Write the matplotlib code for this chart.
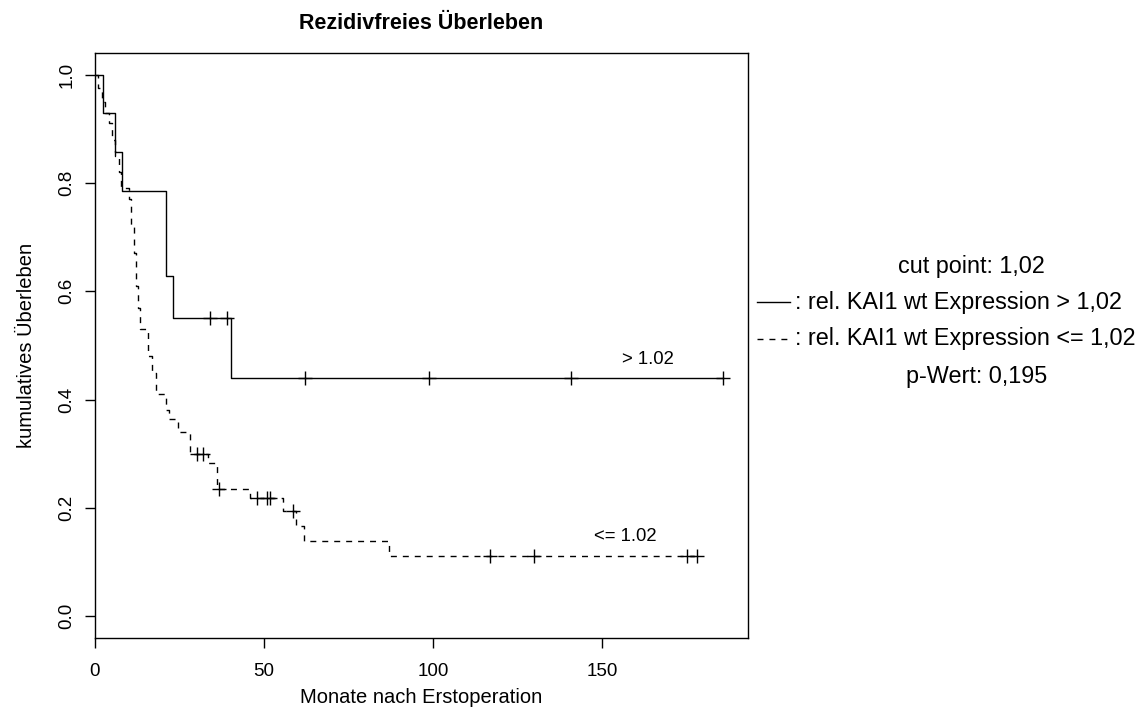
import numpy as np
import matplotlib
matplotlib.use("Agg")
import matplotlib.pyplot as plt
from matplotlib.lines import Line2D

plt.rcParams['font.family'] = ['Liberation Sans', 'DejaVu Sans']

# group "> 1.02" (solid): step times (months) and survival after each step
hi_times = [0, 2.3, 5.9, 8.1, 21.1, 23.0, 40.1]
hi_surv = [1.0, 0.929, 0.857, 0.786, 0.629, 0.550, 0.440]
hi_cens = [34.0, 39.0, 62.1, 98.8, 140.8, 185.8]

# group "<= 1.02" (dashed)
lo_times = [0, 1, 2, 3, 4, 5, 6, 7, 7.7, 10, 10.8, 11.5, 12, 12.8, 13.3, 15.8,
            16.8, 18, 21, 22, 24.5, 28, 33.5, 36, 46, 55.7, 59.6, 61.8, 87]
lo_surv = [1.0, 0.975, 0.95, 0.93, 0.91, 0.88, 0.85, 0.82, 0.79, 0.77, 0.72,
           0.67, 0.61, 0.57, 0.53, 0.48, 0.45, 0.41, 0.38, 0.365, 0.34, 0.30,
           0.283, 0.235, 0.219, 0.195, 0.166, 0.139, 0.111]
lo_cens = [30.1, 32.0, 36.8, 47.8, 50.8, 51.8, 58.7, 116.9, 129.9, 175.1, 178.1]

x_ticks = [0, 50, 100, 150]
y_ticks = [0.0, 0.2, 0.4, 0.6, 0.8, 1.0]
legend_rows = ["cut point: 1,02",
               ": rel. KAI1 wt Expression > 1,02",
               ": rel. KAI1 wt Expression <= 1,02",
               "p-Wert: 0,195"]


def surv_at(times, surv, t):
    idx = np.searchsorted(times, t, side='right') - 1
    return np.array(surv)[idx]


fig = plt.figure(figsize=(11.47, 7.23), dpi=100)
ax = fig.add_axes([95 / 1147, 1 - 638 / 723, (748 - 95) / 1147, (638 - 53) / 723])

end_t = max(hi_cens + lo_cens)
for times, surv, cens, ls in [(hi_times, hi_surv, hi_cens, '-'),
                              (lo_times, lo_surv, lo_cens, '--')]:
    t_full = list(times) + [max(cens)]
    s_full = list(surv) + [surv[-1]]
    line, = ax.step(t_full, s_full, where='post', color='black', lw=1.0, linestyle=ls)
    if ls == '--':
        line.set_dashes((4.3, 4.3))
    ax.plot(cens, surv_at(times, surv, cens), linestyle='none', marker='+',
            markersize=10, mew=1.0, color='black')

ax.text(163.6, 0.475, "> 1.02", fontsize=13.3, ha='center', va='center')
ax.text(157, 0.147, "<= 1.02", fontsize=13.3, ha='center', va='center')

ax.set_xlim(0, end_t * 1.04)
ax.set_ylim(-0.04, 1.04)
ax.set_xticks(x_ticks)
ax.set_xticklabels([str(v) for v in x_ticks])
ax.set_yticks(y_ticks)
ax.set_yticklabels([f"{v:.1f}" for v in y_ticks], rotation=90, va='center')
ax.tick_params(direction='out', length=7, width=1, labelsize=13.5)
ax.tick_params(axis='x', pad=11)
ax.tick_params(axis='y', pad=7)
for sp in ax.spines.values():
    sp.set_linewidth(1.0)

ax.set_title("Rezidivfreies Überleben", fontsize=15.5, fontweight='bold', pad=17)
ax.set_xlabel("Monate nach Erstoperation", fontsize=14.5, labelpad=6)
ax.set_ylabel("kumulatives Überleben", fontsize=14.5, labelpad=16)

# legend block on the right
W, H = 1147, 723
fs_leg = 16.8
fig.text(971 / W, 1 - 266 / H, legend_rows[0], fontsize=fs_leg, ha='center', va='center')
fig.text(795 / W, 1 - 302 / H, legend_rows[1], fontsize=fs_leg, ha='left', va='center')
fig.text(795 / W, 1 - 339 / H, legend_rows[2], fontsize=fs_leg, ha='left', va='center')
fig.text(977 / W, 1 - 377 / H, legend_rows[3], fontsize=fs_leg, ha='center', va='center')
fig.add_artist(Line2D([757 / W, 790 / W], [1 - 302 / H, 1 - 302 / H],
                      color='black', lw=1.0))
fig.add_artist(Line2D([757 / W, 790 / W], [1 - 339 / H, 1 - 339 / H],
                      color='black', lw=1.0, dashes=(4.3, 4.3)))

fig.savefig("out.png", dpi=100)
